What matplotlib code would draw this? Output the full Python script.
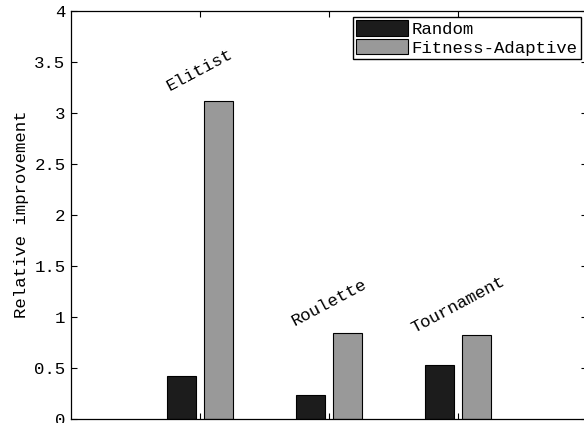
import numpy as np
import matplotlib
matplotlib.use('Agg')
import matplotlib.pyplot as plt

# Data
selections = ['Elitist', 'Roulette', 'Tournament']
random_vals = [0.42, 0.23, 0.53]
adaptive_vals = [3.12, 0.84, 0.82]
series_names = ['Random', 'Fitness-Adaptive']
yticks = [0, 0.5, 1, 1.5, 2, 2.5, 3, 3.5, 4]
ytick_labels = ['0', '0.5', '1', '1.5', '2', '2.5', '3', '3.5', '4']

plt.rcParams['font.family'] = ['Liberation Mono', 'DejaVu Sans Mono']
plt.rcParams['font.size'] = 12.5

fig = plt.figure(figsize=(5.84, 4.23), dpi=100)
ax = fig.add_axes([71 / 584, 4.5 / 423, 516 / 584, 407.5 / 423])

x = np.arange(1, len(selections) + 1)
w = 0.225
off = 0.143
ax.bar(x - off, random_vals, w, color='#1c1c1c', edgecolor='black', lw=0.8,
       label=series_names[0])
ax.bar(x + off, adaptive_vals, w, color='#999999', edgecolor='black', lw=0.8,
       label=series_names[1])

# rotated group names above each pair
for xi, name, r, a in zip(x, selections, random_vals, adaptive_vals):
    ax.text(xi, max(r, a) + 0.3, name, rotation=28, ha='center', va='center',
            rotation_mode='anchor', fontsize=12.5)

ax.set_xlim(0, 4)
ax.set_ylim(0, 4)
ax.set_xticks(x)
ax.set_xticklabels([])
ax.set_yticks(yticks)
ax.set_yticklabels(ytick_labels)
ax.tick_params(direction='in', top=True, right=True, length=4, width=0.8)
ax.tick_params(axis='y', pad=4)
for s in ax.spines.values():
    s.set_linewidth(0.9)
ax.set_ylabel('Relative improvement', labelpad=4)

leg = ax.legend(loc='upper right', bbox_to_anchor=(581 / 584, 1 - 17 / 423),
                bbox_transform=fig.transFigure, fancybox=False, framealpha=1,
                borderpad=0.2, handlelength=3.0, handleheight=1.0,
                handletextpad=0.2, labelspacing=0.1, borderaxespad=0)
leg.get_frame().set_edgecolor('black')
leg.get_frame().set_linewidth(1.0)

fig.savefig('out.png', dpi=100)
